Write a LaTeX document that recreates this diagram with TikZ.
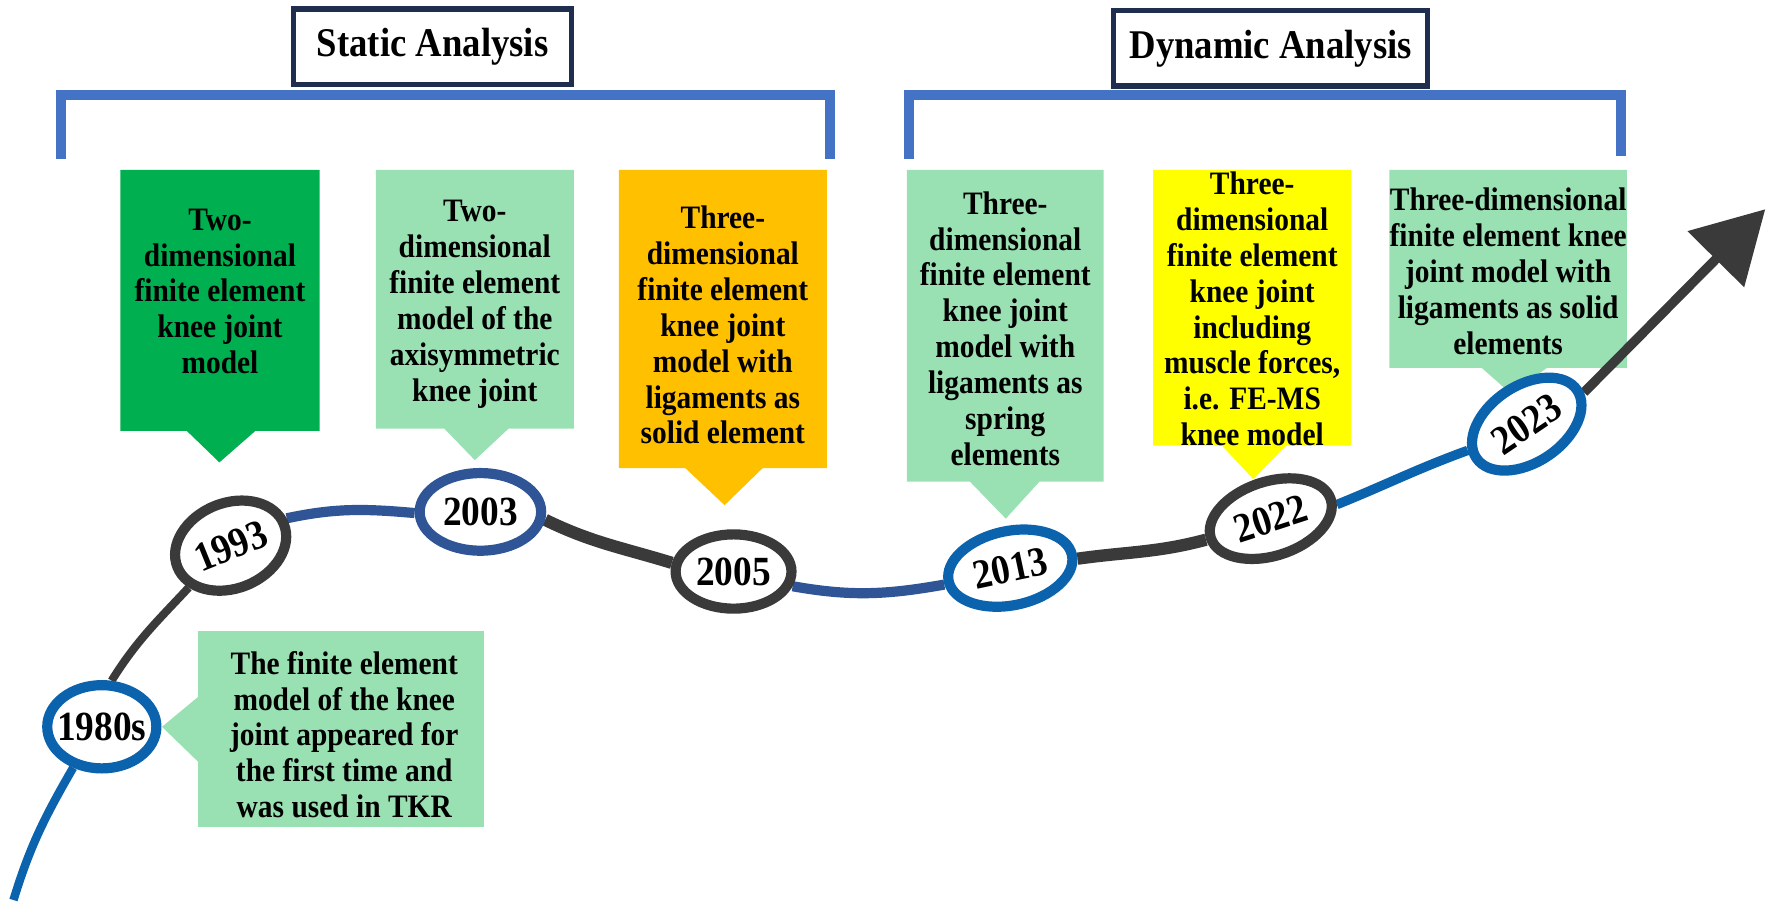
\documentclass[tikz,border=0pt]{standalone}
\usepackage{fontspec}
\setmainfont{Liberation Serif}[FakeStretch=0.9]
\usetikzlibrary{shapes.geometric,arrows.meta}
\def\px{0.01125cm}
\definecolor{dkgreen}{HTML}{00B050}
\definecolor{ltgreen}{HTML}{99E0B2}
\definecolor{gold}{HTML}{FFC000}
\definecolor{lemon}{HTML}{FFFF00}
\definecolor{brblue}{HTML}{4472C4}
\definecolor{navyframe}{HTML}{1F2D4E}
\definecolor{tlgray}{HTML}{3A3A3A}
\definecolor{tlblue}{HTML}{0B63AE}
\definecolor{tlnavy}{HTML}{2F5597}
\pgfdeclarelayer{background}
\pgfsetlayers{background,main}
\tikzset{
  yearnode/.style={ellipse, draw=#1, line width=2.9pt, fill=white, inner sep=0pt,
    font=\fontsize{11.8}{13}\selectfont\bfseries},
  boxtext/.style={align=center, inner sep=0pt, font=\fontsize{9.3}{10.2}\selectfont\bfseries},
  titlebox/.style={draw=navyframe, line width=1.45pt, fill=white, inner sep=0pt,
    font=\fontsize{11.6}{13}\selectfont\bfseries},
  bracket/.style={draw=brblue, line width=2.9pt},
}

\begin{document}
\begin{tikzpicture}[x=\px, y=\px]
			%%%%% START %%%%%
			\useasboundingbox (0,0) rectangle (1575,807);
			
			\node[titlebox, minimum width=247*\px, minimum height=67*\px] (static) at (384.5,765.5) {Static Analysis};
			\node[titlebox, minimum width=279*\px, minimum height=67*\px] (dynamic) at (1129.5,764) {Dynamic Analysis};
			
			\draw[bracket] (54,666) -- (54,722.7) -- (737.5,722.7) -- (737.5,666);
			\draw[bracket] (808,666) -- (808,722.7) -- (1441,722.7) -- (1441,668);
			
			\node[boxtext] (t1993) at (195.5,548) {Two-\\dimensional\\finite element\\knee joint\\model};
			\node[boxtext] (t2003) at (422,536.5) {Two-\\dimensional\\finite element\\model of the\\axisymmetric\\knee joint};
			\node[boxtext] (t2005) at (642.5,518) {Three-\\dimensional\\finite element\\knee joint\\model with\\ligaments as\\solid element};
			\node[boxtext] (t2013) at (893.5,515) {Three-\\dimensional\\finite element\\knee joint\\model with\\ligaments as\\spring\\elements};
			\node[boxtext] (t2022) at (1113,532.4) {Three-\\dimensional\\finite element\\knee joint\\including\\muscle forces,\\i.e. FE-MS\\knee model};
			\node[boxtext] (t2023) at (1340.5,566) {Three-dimensional\\finite element knee\\joint model with\\ligaments as solid\\elements};
			\node[boxtext] (t1980) at (306,154) {The finite element\\model of the knee\\joint appeared for\\the first time and\\was used in TKR};
			
			\node[yearnode=tlblue, inner xsep=-3pt, minimum width=97*\px, minimum height=74*\px] (y1980) at (90.5,161) {1980s};
			\node[yearnode=tlgray, minimum width=102*\px, minimum height=76*\px, rotate=22] (y1993) at (205,322) {1993};
			\node[yearnode=tlnavy, minimum width=108*\px, minimum height=69*\px] (y2003) at (427,352) {2003};
			\node[yearnode=tlgray, minimum width=103*\px, minimum height=66*\px] (y2005) at (652,299) {2005};
			\node[yearnode=tlblue, minimum width=112*\px, minimum height=66*\px, rotate=12] (y2013) at (898,302) {2013};
			\node[yearnode=tlgray, minimum width=112*\px, minimum height=66*\px, rotate=18] (y2022) at (1129.5,346) {2022};
			\node[yearnode=tlblue, minimum width=108*\px, minimum height=68*\px, rotate=34] (y2023) at (1357,430) {2023};
			
			\coordinate (start) at (12,7);
			\coordinate (tip) at (1569,621);
			
			\begin{pgfonlayer}{background}
			% callouts
			\fill[dkgreen] (107,656) -- (284,656) -- (284,424) -- (227,424) -- (195,396) -- (166,424) -- (107,424) -- cycle;
			\fill[ltgreen] (334,656) -- (510,656) -- (510,426) -- (452,426) -- (422,398) -- (395,426) -- (334,426) -- cycle;
			\fill[gold] (550,656) -- (735,656) -- (735,391) -- (678,391) -- (644,358) -- (609,391) -- (550,391) -- cycle;
			\fill[ltgreen] (806,656) -- (981,656) -- (981,379) -- (924,379) -- (894,346) -- (862,379) -- (806,379) -- cycle;
			\fill[lemon] (1025,656) -- (1201,656) -- (1201,411) -- (1143,411) -- (1114,381) -- (1086,411) -- (1025,411) -- cycle;
			\fill[ltgreen] (1235,656) -- (1446,656) -- (1446,480) -- (1375,480) -- (1343,457) -- (1317,480) -- (1235,480) -- cycle;
			\fill[ltgreen] (176,246) -- (430,246) -- (430,72) -- (176,72) -- (176,130) -- (144,161) -- (176,187.5) -- cycle;
			
			% timeline
			\draw[tlblue, line width=2.4pt] (start) to[out=73, in=-120] (y1980.-125);
			\draw[tlgray, line width=2.3pt] (y1980.78) to[out=58, in=-133] (y1993.-157);
			\draw[tlnavy, line width=2.9pt] (y1993.4) to[out=12, in=175] (y2003.181);
			\draw[tlgray, line width=3.5pt] (y2003.-7) to[out=-26, in=163] (y2005.172);
			\draw[tlnavy, line width=2.9pt] (y2005.-14) to[out=-10, in=190] (y2013.-178);
			\draw[tlgray, line width=3.5pt] (y2013.-4) to[out=8, in=195] (y2022.180);
			\draw[tlblue, line width=2.7pt] (y2022.-6) to[out=22, in=-160] (y2023.170);
			\draw[tlgray, line width=2.7pt, -{Triangle[length=20pt, width=22pt]}] (y2023.-5) -- (tip);
			\end{pgfonlayer}
			%%%%% END %%%%%
\end{tikzpicture}
\end{document}
